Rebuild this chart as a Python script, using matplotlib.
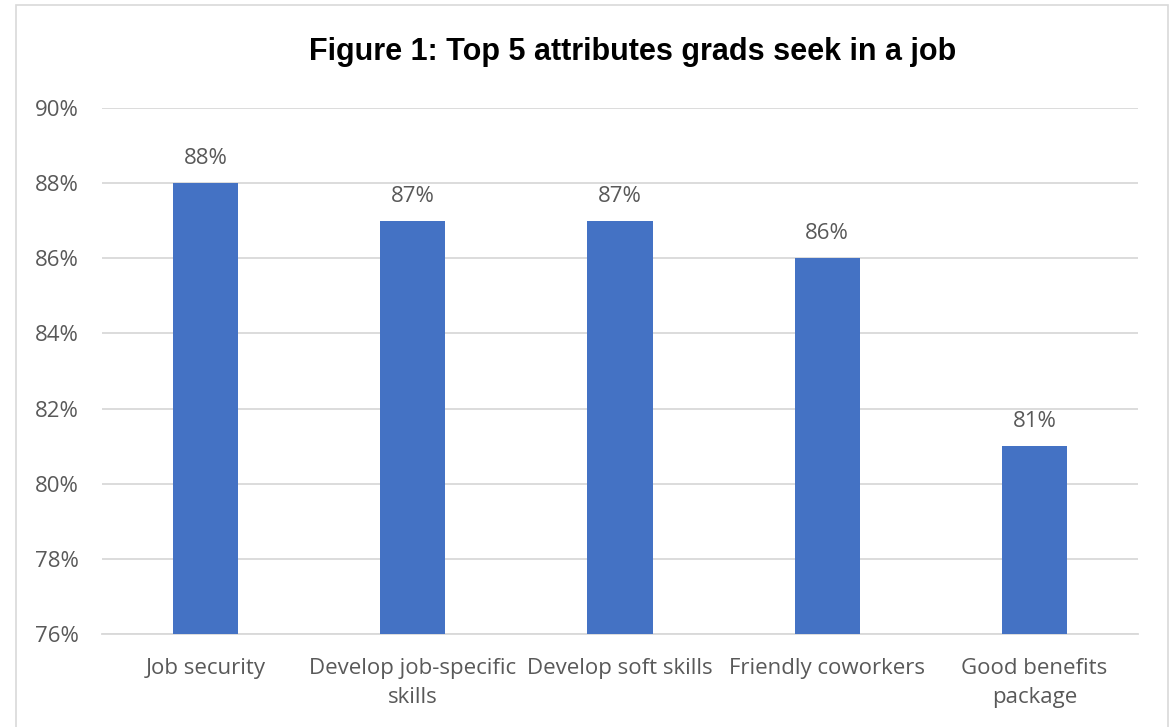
import matplotlib.pyplot as plt
from matplotlib.patches import Rectangle

# Données
attributs = ["Job security", "Develop job-specific\nskills", "Develop soft skills",
             "Friendly coworkers", "Good benefits\npackage"]
pourcentages = [88, 87, 87, 86, 81]
graduations = [76, 78, 80, 82, 84, 86, 88, 90]

gris = "#595959"
plt.rcParams['font.family'] = ['Open Sans', 'DejaVu Sans']

fig = plt.figure(figsize=(11.71, 7.27), dpi=100)
ax = fig.add_axes([102 / 1171, 1 - 634 / 727, 1036 / 1171, 526 / 727])

x = range(len(attributs))
barres = ax.bar(x, pourcentages, width=0.315, color="#4472C4", zorder=3)
for xi, v in zip(x, pourcentages):
    ax.annotate(f"{v}%", (xi, v), xytext=(0, 10), textcoords="offset points",
                ha="center", va="bottom", fontsize=16, color=gris)

ax.set_ylim(76, 90)
ax.set_xlim(-0.5, len(attributs) - 0.5)
ax.set_yticks(graduations)
ax.set_yticklabels([f"{g}%" for g in graduations])
ax.set_xticks(list(x))
ax.set_xticklabels(attributs, linespacing=1.5)
ax.tick_params(axis="both", length=0, labelsize=16, colors=gris)
ax.tick_params(axis="y", pad=17)
ax.tick_params(axis="x", pad=17)
ax.grid(axis="y", color="#D9D9D9", linewidth=1.3, zorder=0)
for cote in ["top", "right", "left"]:
    ax.spines[cote].set_visible(False)
ax.spines["bottom"].set_color("#D9D9D9")
ax.spines["bottom"].set_linewidth(1.3)

fig.text(633 / 1171, 1 - 52 / 727, "Figure 1: Top 5 attributes grads seek in a job",
         ha="center", va="center", fontsize=22, fontweight="bold",
         family=["Liberation Sans", "DejaVu Sans"], color="black")

# Cadre du graphique
fig.patches.append(Rectangle((16 / 1171, -0.05), 1152 / 1171, 1.05 - 5 / 727,
                             transform=fig.transFigure, fill=False,
                             edgecolor="#D9D9D9", linewidth=1.2))

fig.savefig("out.png", dpi=100)
